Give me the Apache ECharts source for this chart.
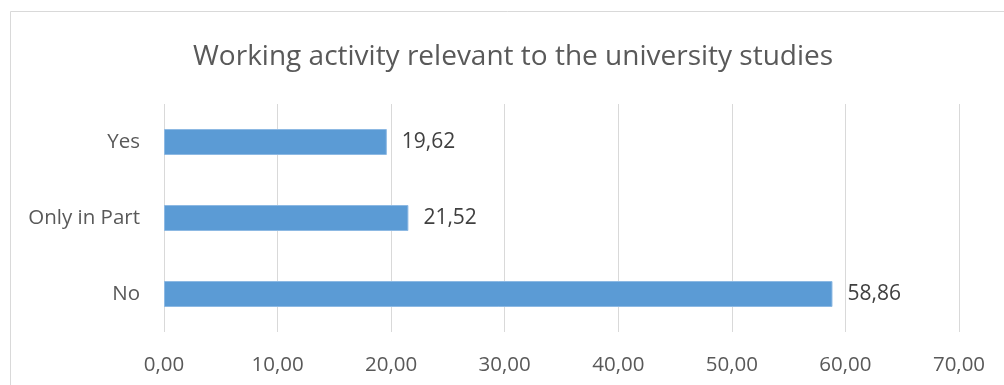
<!DOCTYPE html>
<html>
<head>
<meta charset="utf-8">
<script src="https://cdn.jsdelivr.net/npm/echarts@6/dist/echarts.min.js"></script>
<style>
html,body{margin:0;padding:0;background:#fff;}
#c{width:1004px;height:385px;}
</style>
</head>
<body>
<div id="c"></div>
<script>
const titleText = 'Working activity relevant to the university studies';
const categories = ['No', 'Only in Part', 'Yes'];
const values = [58.86, 21.52, 19.62];
const axisMin = 0, axisMax = 70, axisStep = 10;

const fontFam = '"Open Sans", "Liberation Sans", sans-serif';
const fmt = v => v.toFixed(2).replace('.', ',');

const chart = echarts.init(document.getElementById('c'), null, {renderer: 'canvas'});
chart.setOption({
  animation: false,
  backgroundColor: '#ffffff',
  graphic: [{
    type: 'rect', silent: true, z: -10,
    shape: {x: 10.5, y: 11.5, width: 1100, height: 500},
    style: {fill: 'none', stroke: '#d9d9d9', lineWidth: 1}
  }],
  title: {
    text: titleText,
    left: 193,
    top: 43,
    padding: 0,
    textStyle: {fontFamily: fontFam, fontSize: 28, fontWeight: 'normal', color: '#595959'}
  },
  grid: {left: 164, right: 45, top: 104, bottom: 53, containLabel: false},
  xAxis: {
    type: 'value', min: axisMin, max: axisMax, interval: axisStep,
    axisLine: {show: false}, axisTick: {show: false},
    splitLine: {show: true, lineStyle: {color: '#d9d9d9', width: 1}},
    axisLabel: {fontFamily: fontFam, fontSize: 20.5, color: '#595959', margin: 23, formatter: v => fmt(v)}
  },
  yAxis: {
    type: 'category', data: categories,
    axisLine: {show: false}, axisTick: {show: false},
    axisLabel: {fontFamily: fontFam, fontSize: 20.5, color: '#595959', margin: 24}
  },
  series: [{
    type: 'bar', data: values, barWidth: 26,
    itemStyle: {color: '#5b9bd5', borderColor: '#8db9e3', borderWidth: 1},
    label: {show: true, position: 'right', distance: 15, fontFamily: fontFam, fontSize: 21, color: '#404040', formatter: p => fmt(p.value)}
  }]
});
</script>
</body>
</html>
